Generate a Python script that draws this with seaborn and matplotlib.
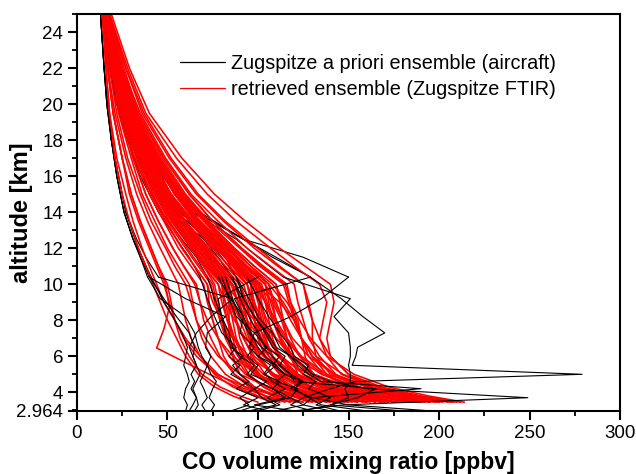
import numpy as np
import pandas as pd
import matplotlib
matplotlib.use('Agg')
import matplotlib.pyplot as plt
import seaborn as sns
from matplotlib.lines import Line2D
from matplotlib.ticker import MultipleLocator

# altitude grids [km]
red_alt = [3.45, 3.8, 4.3, 5.0, 6.0, 7.0, 8.0, 9.0, 10.0, 11.0, 12.0, 13.5, 15.0, 17.0, 19.5, 22.0, 25.0]
black_alt = [2.964, 3.3, 3.7, 4.2, 4.6, 5.0, 5.5, 6.0, 6.5, 7.3, 8.2, 9.2, 10.4, 11.5, 12.5, 14.0, 16.0, 18.0, 20.0, 22.0, 25.0]

# retrieved ensemble (Zugspitze FTIR), CO in ppbv
red_profiles = [
    [100, 90, 79, 69, 62, 57, 54, 52, 50, 45, 41, 35, 30, 25, 20, 17, 14],
    [108, 98, 86, 76, 68, 63, 60, 58, 56, 51, 46, 39, 33, 27, 21, 17, 14],
    [115, 104, 93, 82, 74, 69, 66, 64, 62, 56, 50, 43, 36, 30, 23, 19, 15],
    [122, 111, 98, 87, 79, 74, 70, 68, 66, 59, 53, 45, 38, 31, 24, 19, 15],
    [130, 118, 105, 93, 84, 78, 75, 72, 70, 63, 56, 48, 40, 32, 24, 19, 15],
    [138, 125, 111, 98, 89, 83, 79, 76, 74, 67, 60, 50, 42, 34, 26, 21, 16],
    [145, 132, 117, 103, 93, 87, 83, 80, 78, 70, 63, 53, 44, 35, 27, 21, 16],
    [152, 138, 123, 109, 98, 92, 88, 84, 82, 73, 66, 55, 46, 37, 27, 21, 16],
    [160, 145, 129, 114, 103, 96, 92, 89, 86, 77, 69, 57, 48, 38, 28, 22, 16],
    [168, 152, 135, 120, 108, 101, 96, 93, 90, 80, 72, 60, 49, 39, 29, 22, 16],
    [176, 160, 142, 125, 113, 105, 101, 97, 94, 84, 75, 62, 52, 41, 30, 23, 17],
    [184, 167, 148, 131, 118, 110, 105, 101, 98, 88, 78, 65, 54, 42, 31, 23, 17],
    [192, 174, 154, 136, 123, 115, 109, 105, 102, 91, 81, 67, 55, 43, 32, 24, 17],
    [200, 181, 161, 142, 128, 119, 114, 109, 106, 94, 84, 70, 57, 45, 32, 24, 17],
    [207, 188, 166, 147, 132, 124, 118, 113, 110, 98, 87, 72, 59, 46, 33, 24, 17],
    [214, 194, 172, 153, 138, 129, 123, 118, 115, 102, 91, 75, 62, 48, 34, 26, 18],
    [120, 112, 103, 95, 89, 86, 83, 81, 80, 72, 64, 53, 44, 35, 26, 20, 15],
    [135, 126, 116, 107, 100, 96, 94, 92, 90, 80, 72, 60, 49, 39, 29, 22, 16],
    [150, 140, 129, 119, 112, 107, 104, 102, 100, 89, 79, 66, 54, 42, 30, 23, 16],
    [165, 154, 142, 131, 123, 118, 114, 112, 110, 98, 87, 72, 59, 46, 33, 24, 17],
    [180, 168, 155, 143, 134, 128, 125, 122, 120, 107, 94, 78, 63, 49, 35, 25, 17],
    [195, 176, 156, 140, 132, 130, 130, 128, 125, 112, 100, 82, 67, 52, 37, 27, 18],
    [205, 185, 163, 146, 138, 134, 136, 138, 134, 120, 107, 88, 72, 55, 38, 28, 18],
    [210, 190, 168, 150, 140, 138, 140, 142, 140, 126, 112, 93, 76, 58, 40, 29, 19],
    [140, 124, 106, 90, 78, 71, 66, 63, 60, 54, 49, 41, 35, 28, 22, 18, 14],
    [155, 137, 117, 99, 86, 78, 72, 68, 65, 59, 53, 45, 38, 31, 24, 19, 15],
    [170, 150, 129, 109, 95, 86, 80, 75, 72, 65, 58, 49, 41, 33, 25, 20, 15],
    [185, 164, 140, 119, 103, 93, 87, 82, 78, 70, 63, 53, 44, 35, 27, 21, 16],
    [198, 175, 151, 128, 111, 101, 94, 89, 85, 76, 68, 57, 47, 37, 28, 22, 16],
    [112, 104, 95, 87, 81, 78, 75, 73, 72, 65, 58, 49, 41, 33, 25, 20, 15],
    [128, 119, 110, 101, 94, 90, 88, 86, 84, 75, 67, 56, 47, 37, 28, 21, 16],
    [145, 135, 124, 113, 106, 101, 98, 96, 94, 84, 75, 62, 51, 40, 29, 22, 16],
    [160, 149, 136, 125, 117, 112, 108, 106, 104, 93, 82, 68, 56, 44, 32, 24, 17],
    [175, 163, 150, 138, 130, 124, 121, 118, 116, 103, 91, 75, 62, 48, 34, 25, 17],
    [190, 177, 163, 150, 140, 134, 130, 127, 125, 111, 98, 81, 66, 51, 36, 27, 18],
    [125, 110, 93, 77, 66, 59, 54, 51, 48, 44, 40, 34, 29, 25, 20, 17, 14],
    [150, 138, 128, 122, 118, 116, 114, 110, 104, 92, 80, 64, 52, 40, 29, 22, 16],
    [165, 150, 138, 130, 126, 124, 120, 112, 100, 88, 76, 62, 50, 39, 29, 22, 16],
    [130, 122, 116, 112, 108, 104, 98, 90, 82, 72, 64, 53, 44, 35, 26, 20, 15],
    [178, 158, 138, 122, 112, 108, 106, 104, 100, 90, 80, 66, 54, 43, 31, 23, 17],
    [188, 165, 140, 120, 106, 98, 92, 86, 80, 72, 64, 54, 45, 36, 27, 21, 16],
    [145, 128, 112, 100, 92, 88, 86, 84, 80, 71, 63, 52, 43, 34, 26, 20, 15],
    [200, 178, 155, 135, 120, 110, 100, 92, 86, 78, 70, 58, 48, 38, 28, 22, 16],
    [170, 155, 140, 128, 120, 116, 113, 108, 100, 88, 77, 62, 50, 39, 28, 21, 16],
    [155, 140, 124, 112, 104, 100, 98, 97, 96, 88, 80, 68, 57, 45, 33, 24, 17],
    [118, 108, 98, 90, 86, 84, 84, 84, 82, 74, 66, 55, 46, 36, 27, 20, 15],
    [185, 168, 150, 136, 128, 124, 122, 116, 108, 96, 85, 70, 57, 45, 32, 24, 17],
    [140, 130, 118, 108, 100, 94, 90, 86, 82, 76, 70, 60, 51, 41, 30, 22, 16],
    [212, 188, 160, 138, 124, 116, 110, 104, 98, 88, 78, 64, 52, 41, 30, 23, 17],
    [160, 144, 126, 112, 104, 100, 100, 101, 98, 90, 80, 66, 54, 43, 31, 23, 17],
    [135, 120, 108, 100, 96, 96, 96, 94, 90, 80, 70, 57, 47, 37, 27, 21, 15],
    [175, 158, 138, 122, 112, 106, 102, 98, 94, 86, 78, 66, 55, 44, 33, 25, 18],
    [195, 174, 150, 130, 118, 112, 110, 108, 106, 96, 86, 71, 58, 45, 32, 24, 17],
    [150, 132, 114, 100, 90, 84, 80, 78, 76, 70, 64, 55, 46, 37, 28, 21, 16],
    [208, 186, 162, 142, 130, 124, 120, 114, 106, 94, 84, 68, 55, 43, 31, 23, 17],
    [95, 86, 76, 67, 60, 55, 50, 46, 42, 38, 34, 29, 25, 21, 18, 16, 14],
    [118, 104, 90, 78, 68, 60, 54, 48, 44, 40, 36, 31, 27, 22, 18, 16, 14],
    [132, 120, 108, 98, 91, 87, 84, 82, 80, 72, 65, 54, 45, 36, 27, 21, 16],
    [148, 134, 120, 108, 100, 95, 92, 90, 88, 79, 71, 59, 49, 39, 29, 22, 16],
    [162, 146, 130, 117, 108, 103, 100, 98, 96, 86, 77, 64, 52, 41, 30, 23, 17],
    [172, 154, 136, 121, 111, 106, 103, 101, 99, 89, 80, 66, 54, 42, 31, 23, 17],
    [142, 130, 118, 108, 101, 97, 94, 91, 88, 78, 69, 57, 47, 37, 27, 21, 15],
    [182, 164, 145, 129, 118, 112, 108, 104, 101, 90, 80, 66, 54, 42, 31, 23, 17],
    [125, 114, 103, 94, 87, 82, 79, 77, 75, 68, 61, 51, 43, 34, 26, 20, 15],
    [190, 170, 149, 131, 119, 113, 110, 107, 104, 93, 83, 68, 56, 44, 32, 24, 17],
    [158, 143, 128, 116, 108, 104, 102, 100, 97, 87, 77, 63, 52, 41, 30, 22, 16],
    [168, 151, 133, 118, 108, 102, 98, 95, 92, 82, 73, 60, 50, 40, 30, 23, 17],
    [138, 126, 114, 104, 97, 92, 88, 85, 83, 74, 66, 55, 46, 37, 28, 21, 15],
    [202, 182, 160, 142, 130, 124, 120, 117, 114, 101, 90, 73, 60, 47, 34, 25, 18],
]

# one retrieved profile with a dip near 6.5 km
odd_alt = [3.45, 3.8, 4.3, 5.2, 6.46, 7.5, 8.7, 10.0, 11.0, 12.0, 13.5, 15.0, 17.0, 19.5, 22.0, 25.0]
odd_co = [112, 100, 88, 69, 44, 48, 51, 49, 45, 41, 35, 30, 25, 20, 17, 14]

# Zugspitze a priori ensemble (aircraft), CO in ppbv
black_profiles = [
    [60, 61, 59, 60, 62, 61, 59, 60, 61, 58, 53, 47, 41, 36, 32, 27, 23, 19, 17, 15, 13],
    [65, 67, 66, 64, 66, 68, 66, 64, 65, 62, 55, 48, 40, 35, 31, 26, 22, 19, 16.5, 15, 13],
    [71, 69, 72, 70, 68, 70, 72, 69, 67, 65, 60, 46, 39, 35, 31, 26, 22, 19, 16.5, 15, 13],
    [74, 76, 73, 75, 77, 74, 72, 74, 71, 72, 82, 60, 40, 36, 31, 26, 22, 19, 16.5, 15, 13],
    [62, 64, 66, 63, 65, 63, 66, 64, 62, 66, 74, 86, 45, 38, 33, 27, 23, 19, 17, 15, 13],
    [95, 110, 102, 98, 105, 96, 100, 94, 98, 90, 92, 85, 78, 70, 62, 50, 38, 29, 23, 19, 16],
    [120, 98, 115, 108, 112, 103, 107, 100, 95, 98, 88, 84, 80, 72, 64, 54, 40, 30, 23, 19, 16],
    [140, 125, 118, 122, 110, 115, 108, 112, 104, 100, 95, 90, 86, 78, 66, 56, 42, 31, 24, 19, 16],
    [105, 92, 100, 88, 95, 90, 86, 92, 85, 82, 80, 76, 72, 66, 58, 47, 36, 28, 22, 18, 15],
    [160, 135, 128, 120, 125, 118, 112, 115, 108, 104, 98, 92, 88, 82, 70, 58, 43, 32, 24, 19, 16],
    [85, 95, 90, 98, 92, 85, 90, 84, 88, 80, 76, 72, 68, 62, 55, 45, 35, 28, 22, 18, 15],
    [196, 150, 130, 118, 124, 115, 110, 104, 100, 96, 92, 87, 129, 110, 92, 66, 48, 35, 27, 21, 17],
    [130, 118, 125, 140, 154, 279, 152, 154, 155, 170, 158, 146, 129, 108, 92, 66, 48, 35, 27, 21, 17],
    [120, 147, 249, 160, 140, 130, 125, 118, 112, 108, 100, 95, 88, 80, 72, 55, 41, 31, 24, 19, 16],
    [110, 125, 130, 190, 135, 128, 122, 118, 110, 105, 98, 92, 85, 78, 70, 52, 39, 30, 23, 19, 16],
    [125, 140, 150, 148, 151, 151, 150, 151, 151, 150, 142, 151, 114, 100, 88, 64, 47, 35, 26, 20, 16],
    [100, 112, 105, 115, 108, 104, 110, 100, 105, 98, 118, 135, 150, 125, 92, 68, 50, 37, 28, 21, 17],
    [180, 140, 155, 165, 120, 118, 112, 108, 102, 95, 90, 86, 82, 75, 66, 51, 39, 30, 23, 19, 16],
    [90, 100, 118, 108, 100, 94, 98, 90, 86, 84, 80, 78, 100, 88, 76, 53, 40, 30, 23, 19, 16],
    [145, 132, 140, 128, 132, 125, 128, 120, 118, 112, 106, 100, 94, 86, 74, 57, 43, 32, 24, 19, 16],
]

y_ticks = [2.964, 4, 6, 8, 10, 12, 14, 16, 18, 20, 22, 24]


def to_long(profiles, alt, kind):
    rows = []
    for i, prof in enumerate(profiles):
        for a, v in zip(alt, prof):
            rows.append({'profile': f'{kind}{i}', 'alt': a, 'co': v})
    return pd.DataFrame(rows)


red_df = pd.concat([to_long(red_profiles, red_alt, 'r'),
                    to_long([odd_co], odd_alt, 'odd')], ignore_index=True)
black_df = to_long(black_profiles, black_alt, 'k')
# lower (aircraft) part is drawn above the red ensemble, upper part below it
black_low = black_df[black_df['alt'] <= 10.4]
black_high = black_df[black_df['alt'] >= 10.4]

sns.set_style('ticks')
plt.rcParams['font.family'] = ['Liberation Sans', 'DejaVu Sans']
for key in ['text.color', 'axes.labelcolor', 'xtick.color', 'ytick.color', 'axes.edgecolor']:
    plt.rcParams[key] = 'black'

fig, ax = plt.subplots(figsize=(6.36, 4.74), dpi=100)
fig.subplots_adjust(left=0.121, right=0.975, bottom=0.133, top=0.970)

sns.lineplot(data=black_high, x='co', y='alt', units='profile', estimator=None, sort=False,
             color='black', lw=0.8, ax=ax, zorder=1)
sns.lineplot(data=red_df, x='co', y='alt', units='profile', estimator=None, sort=False,
             color='#ff0000', lw=1.15, ax=ax, zorder=2)
sns.lineplot(data=black_low, x='co', y='alt', units='profile', estimator=None, sort=False,
             color='black', lw=0.8, ax=ax, zorder=3)

ax.set_xlim(0, 300)
ax.set_ylim(2.964, 25)
ax.set_yticks(y_ticks)
ax.set_yticklabels([str(t) for t in y_ticks])
ax.yaxis.set_minor_locator(MultipleLocator(1))
ax.xaxis.set_major_locator(MultipleLocator(50))
ax.xaxis.set_minor_locator(MultipleLocator(25))
ax.tick_params(which='major', direction='out', length=6.5, width=1.5, labelsize=13.5,
               top=False, right=False)
ax.tick_params(which='minor', direction='out', length=3.5, width=1.3, top=False, right=False)
for s in ax.spines.values():
    s.set_visible(True)
    s.set_linewidth(1.5)

ax.set_xlabel('CO volume mixing ratio [ppbv]', fontsize=16.5, fontweight='bold')
ax.set_ylabel('altitude [km]', fontsize=17, fontweight='bold')
ax.xaxis.set_label_coords(0.5, -0.1)
ax.yaxis.set_label_coords(-0.081, 0.5)

handles = [Line2D([], [], color='black', lw=0.9), Line2D([], [], color='#ff0000', lw=0.9)]
labels = ['Zugspitze a priori ensemble (aircraft)', 'retrieved ensemble (Zugspitze FTIR)']
ax.legend(handles, labels, loc='upper left', bbox_to_anchor=(0.172, 0.925), frameon=False,
          fontsize=14.3, handlelength=2.25, handletextpad=0.3, labelspacing=0.35, borderpad=0)

plt.savefig('out.png', dpi=100)
